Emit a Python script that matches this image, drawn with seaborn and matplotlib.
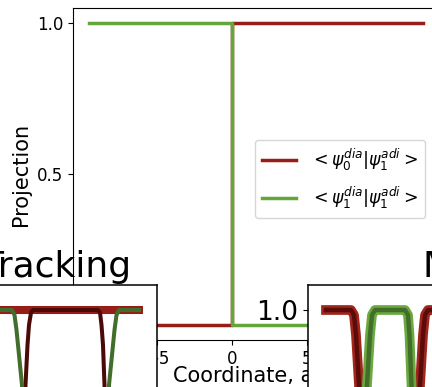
import numpy as np
import matplotlib
matplotlib.use("Agg")
import matplotlib.pyplot as plt
import seaborn as sns

# main panel: projections of diabatic onto adiabatic state 1
coord = [-9.5, 0.0, 0.0, 12.7]
proj_01 = [0.0, 0.0, 1.0, 1.0]
proj_11 = [1.0, 1.0, 0.0, 0.0]
label_01 = r'$<\psi_0^{dia}|\psi_1^{adi}>$'
label_11 = r'$<\psi_1^{dia}|\psi_1^{adi}>$'

# left inset ("Tracking")
trk_total_x = [-7.3, 7.3]
trk_total_y = [1.0, 1.0]
trk_s1_x = [-7.3, -5.4, -5.15, -4.95, -4.7, -4.4, -4.1, -3.8, -3.4, -3.0,
            3.0, 3.4, 3.8, 4.1, 4.3, 4.6, 4.85, 5.05, 5.3, 7.3]
trk_s1_y = [1, 1, 0.99, 0.96, 0.91, 0.85, 0.6, 0.3, 0.05, 0,
            0, 0.05, 0.3, 0.6, 0.85, 0.91, 0.96, 0.99, 1, 1]
trk_s0_x = [-7.3, -4.8, -4.6, -4.4, -4.2, -4.05, -3.85, -3.7, -3.5, -3.3,
            3.2, 3.4, 3.55, 3.7, 3.85, 4.0, 4.2, 4.4, 4.6, 7.3]
trk_s0_y = [0, 0, 0.1, 0.4, 0.7, 0.85, 0.93, 0.97, 0.995, 1,
            1, 0.995, 0.97, 0.93, 0.85, 0.7, 0.4, 0.1, 0, 0]

# right inset ("M...")
map_s0_x = [1.8, 4.3, 4.6, 4.8, 4.95, 5.1, 5.3, 5.5, 5.7,
            10.6, 10.8, 11.0, 11.2, 11.35, 11.5, 11.7, 12.0, 15.2]
map_s0_y = [1, 1, 0.99, 0.95, 0.9, 0.85, 0.5, 0.1, 0,
            0, 0.1, 0.5, 0.85, 0.9, 0.95, 0.99, 1, 1]
map_s1_x = [1.8, 5.2, 5.4, 5.65, 5.9, 6.05, 6.2, 6.4, 6.7,
            9.7, 10.0, 10.15, 10.25, 10.35, 10.55, 10.75, 10.95, 15.2]
map_s1_y = [0, 0, 0.1, 0.5, 0.85, 0.9, 0.95, 0.99, 1,
            1, 0.99, 0.95, 0.9, 0.85, 0.5, 0.1, 0, 0]

red = '#961e19'
green = '#64a53c'
dark_red = '#4b0a08'
dark_green = '#416e2a'

W, H = 432, 387
fig = plt.figure(figsize=(W / 100, H / 100), dpi=100)


def px_axes(x0, x1, y0, y1, **kw):
    # pixel box (from top-left) -> figure axes
    return fig.add_axes([x0 / W, (H - y1) / H, (x1 - x0) / W, (y1 - y0) / H], **kw)


ax = px_axes(73, 439, 8, 340)
ax.set_facecolor('none')
sns.lineplot(x=coord, y=proj_01, ax=ax, color=red, lw=2.5, label=label_01,
             estimator=None, sort=False)
sns.lineplot(x=coord, y=proj_11, ax=ax, color=green, lw=2.5, label=label_11,
             estimator=None, sort=False)
ax.set_xlim(-10.6, 13.8)
ax.set_ylim(-0.05, 1.05)
ax.set_yticks([0, 0.5, 1.0])
ax.set_xticks([-5, 0, 5])
ax.tick_params(labelsize=12)
ax.set_xlabel('Coordinate, a.u.', fontsize=15, labelpad=-1)
ax.set_ylabel('Projection', fontsize=15)
ax.legend(loc='center right', bbox_to_anchor=(1, 0.485), fontsize=12.5,
          labelspacing=0.7, borderaxespad=0.8)

# inset titles sit under the main axes frame
fig.text(131 / W, (H - 277) / H, 'Tracking', ha='right', va='baseline',
         fontsize=26, zorder=-1)
fig.text(422 / W, (H - 277) / H, 'Mapping', ha='left', va='baseline',
         fontsize=26, zorder=-1)

ax1 = px_axes(-25, 157, 285, 835, zorder=2)
sns.lineplot(x=trk_total_x, y=trk_total_y, ax=ax1, color=red, lw=5.8,
             estimator=None, sort=False)
sns.lineplot(x=trk_s0_x, y=trk_s0_y, ax=ax1, color=dark_red, lw=2.9,
             estimator=None, sort=False)
sns.lineplot(x=trk_s1_x, y=trk_s1_y, ax=ax1, color=dark_green, lw=2.9,
             estimator=None, sort=False)
ax1.set_xlim(-9.1, 9.1)
ax1.set_ylim(-0.05, 1.05)
ax1.set_yticks([0, 0.5, 1.0])
ax1.tick_params(labelsize=19)
for s in ax1.spines.values():
    s.set_linewidth(1.1)

ax2 = px_axes(308, 508, 285, 835, zorder=2)
sns.lineplot(x=map_s0_x, y=map_s0_y, ax=ax2, color='#a0261c', lw=7,
             estimator=None, sort=False)
sns.lineplot(x=map_s0_x, y=map_s0_y, ax=ax2, color='#5a0c0a', lw=3.2,
             estimator=None, sort=False)
sns.lineplot(x=map_s1_x, y=map_s1_y, ax=ax2, color='#6aa840', lw=7,
             estimator=None, sort=False)
sns.lineplot(x=map_s1_x, y=map_s1_y, ax=ax2, color='#436e2a', lw=3.2,
             estimator=None, sort=False)
ax2.set_xlim(0, 20)
ax2.set_ylim(-0.05, 1.05)
ax2.set_yticks([0, 0.5, 1.0])
ax2.tick_params(labelsize=19)
for s in ax2.spines.values():
    s.set_linewidth(1.1)

fig.savefig('out.png', dpi=100)
